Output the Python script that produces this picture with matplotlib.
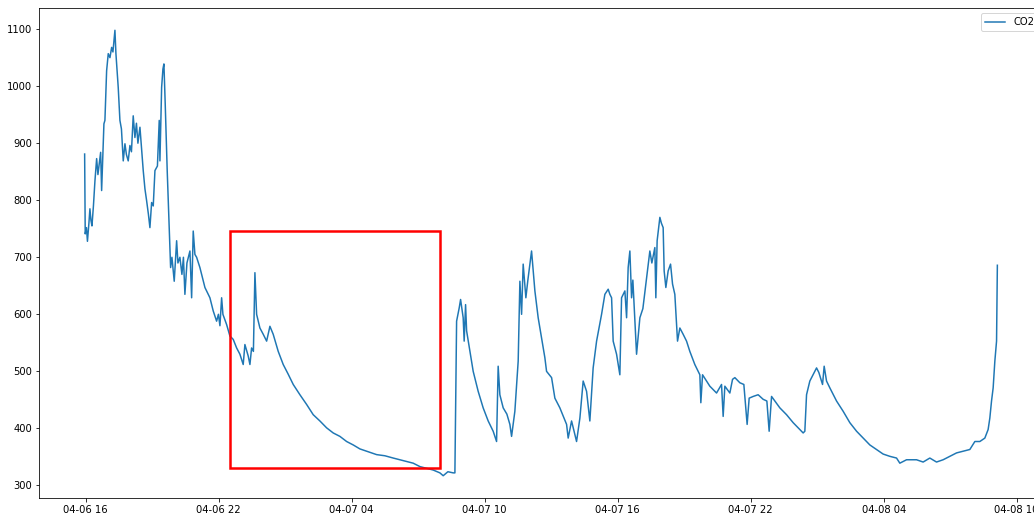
import matplotlib
matplotlib.use("Agg")
import matplotlib.pyplot as plt
import matplotlib.dates as mdates
from matplotlib.patches import Rectangle
import pandas as pd

# Time offsets (minutes after 2021-04-06 16:00) and CO2 readings
start_time = "2021-04-06 16:00"
minutes = [
    -2.7, -1.1, 2.2, 4.9, 8.9, 11.6, 14.3, 17.1, 21.1, 25.2, 29.8, 33.3, 36, 40.6, 43.3, 46.8,
    49.5, 52.2, 56.8, 61.2, 65.8, 70.4, 73.9, 79.3, 82, 88.2, 92.8, 96.9, 101.8, 106.4, 110.4,
    115.3, 119.9, 124, 128.8, 133.4, 137.5, 141.5, 147, 155.9, 160.5, 165.1, 170, 174, 178.6,
    183, 187.6, 194.3, 199.2, 201.1, 205.7, 209.2, 211.9, 215.4, 220.8, 226.3, 230, 233.6,
    239.8, 246.3, 249.8, 255.2, 260.6, 264.7, 268.7, 274.2, 282.3, 286.9, 291.2, 295.8, 300.4,
    309.3, 322.9, 336.4, 345.3, 354.5, 359.4, 363.5, 368.1, 371.6, 381.6,
    390.5, 399.5, 408.7, 417.6, 426.5, 431.1, 440, 444.7, 449.2, 454.1, 458.2, 462.8, 471.7,
    480.7, 489.9, 498.8, 507.7, 521.3, 534.8, 548.3, 561.9, 580, 598.1, 616, 634.1, 652.2,
    670.1, 688.2, 706.4, 724.2, 742.4, 760.5, 787.6, 810, 832.5, 850.6, 868.8, 886.6, 904.8,
    922.9, 940.7, 958.9, 967.8, 980.5, 994.9, 999.5, 1004.1, 1011.1, 1014.9, 1021.9, 1024.6,
    1028.4, 1031.2, 1040.1, 1049, 1062.5, 1076, 1089.6, 1103.1, 1112.3, 1116.6, 1121.2,
    1130.2, 1140.2, 1148.3, 1152.9, 1161.8, 1170.8, 1175.4, 1180, 1184.3, 1191.6, 1197, 1207,
    1216, 1224.9, 1234.1, 1243, 1247.6, 1261.2, 1270.1, 1283.6, 1301.8, 1306.1, 1315.3,
    1328.8, 1337.8, 1346.7, 1355.9, 1364.8, 1373.7, 1383, 1396.5, 1405.4, 1414.4, 1419,
    1423.6, 1427.9, 1437.1, 1446, 1450.6, 1459.6, 1464.2, 1468.5, 1473.1, 1477.7, 1481.2,
    1491.2, 1500.2, 1508.3, 1518.3, 1527.2, 1532.6, 1540.7, 1543.4, 1546.9, 1554.3, 1558.3,
    1563.2, 1565.9, 1570.5, 1576.7, 1583.2, 1588.6, 1594.8, 1602.1, 1608.4, 1617.3, 1626.5,
    1635.4, 1648.9, 1662.5, 1665.2, 1669.8, 1689.5, 1707.7, 1721.2, 1725.6, 1730.2, 1743.7,
    1751, 1757.3, 1770.8, 1781.6, 1790.5, 1796, 1806.8, 1820.3, 1833.8, 1843.9, 1850.1,
    1856.6, 1865.5, 1879, 1897.2, 1915.1, 1933.2, 1942.1, 1946.7, 1951.3, 1960.2, 1973.8,
    1978.4, 1984.6, 1994.6, 1999, 2005.4, 2014.4, 2032.5, 2050.4, 2068.5, 2086.7, 2104.5,
    2122.6, 2140.8, 2158.6, 2176.8, 2194.9, 2203.8, 2222, 2249, 2266.9, 2285, 2303.1, 2321,
    2339.1, 2357.3, 2375.2, 2393.3, 2406.9, 2420.4, 2433.9, 2442.8, 2447.4, 2452, 2456.4,
    2461, 2465.6, 2467.8,
]
co2 = [
    881, 741, 752, 728, 760, 785, 765, 755, 790, 834, 873, 845, 860, 884, 817, 880,
    934, 940, 1027, 1057, 1050, 1068, 1060, 1098, 1057, 998, 940, 925, 869, 899, 880,
    869, 896, 885, 948, 910, 935, 900, 928, 852, 820, 799, 775, 752, 796,
    790, 852, 860, 940, 869, 998, 1030, 1039, 969, 852, 752, 682, 700,
    658, 729, 690, 700, 670, 700, 635, 690, 711, 629, 746, 705, 700,
    682, 647, 629, 606, 588, 600, 580, 629, 600, 582,
    562, 556, 541, 530, 512, 547, 527, 512, 541, 535, 673, 600, 576,
    565, 553, 579, 565, 535, 512, 495, 477, 459, 442, 424, 413, 401,
    392, 386, 377, 371, 364, 360, 354, 352, 348, 345, 342, 339, 333,
    330, 327, 322, 317, 324, 322, 322, 588, 611, 626, 594, 553,
    617, 571, 535, 500, 465, 436, 413, 395, 377, 509, 459,
    436, 425, 407, 386, 430, 518, 658, 600, 688, 629, 660, 711,
    641, 594, 559, 524, 500, 489, 453, 436, 407, 383, 413,
    377, 418, 483, 465, 413, 506, 553, 600, 635, 644, 635,
    629, 553, 530, 494, 629, 641, 594, 682, 711, 629, 660,
    530, 594, 610, 664, 711, 690, 717, 629, 729, 770, 760,
    752, 676, 647, 676, 688, 653, 635, 553, 576, 565, 553,
    535, 512, 494, 445, 494, 474, 462, 477, 421, 474, 462,
    486, 489, 480, 477, 407, 453, 456, 459, 451, 448, 395,
    456, 448, 436, 424, 410, 398, 392, 395, 459, 483, 500,
    506, 498, 477, 509, 483, 471, 448, 430, 410, 395, 383,
    371, 363, 355, 351, 348, 339, 345, 345, 341, 348, 341, 345,
    351, 357, 360, 363, 377, 377, 383, 398, 418, 448, 471,
    518, 553, 686,
]
series_label = "CO2"
tick_hours = [4, 10, 16, 22]

# highlighted window (annotation box)
box_start = "2021-04-06 22:30"
box_end = "2021-04-07 08:00"
box_low, box_high = 330, 746

times = pd.Timestamp(start_time) + pd.to_timedelta(minutes, unit="m")

W, H, DPI = 1034, 514, 72
fig = plt.figure(figsize=(W / DPI, H / DPI), dpi=DPI)
ax = fig.add_axes([39 / W, 16 / H, 1004 / W, 490 / H])
ax.plot(times, co2, color="#1f77b4", linewidth=1.5, label=series_label)

x0 = mdates.date2num(pd.Timestamp(box_start))
x1 = mdates.date2num(pd.Timestamp(box_end))
ax.add_patch(Rectangle((x0, box_low), x1 - x0, box_high - box_low,
                       fill=False, edgecolor="red", linewidth=2.5, zorder=3))

ax.xaxis.set_major_locator(mdates.HourLocator(byhour=tick_hours))
ax.xaxis.set_major_formatter(mdates.DateFormatter("%m-%d %H"))
ax.set_yticks([300, 400, 500, 600, 700, 800, 900, 1000, 1100])
ax.tick_params(labelsize=10)
ax.legend(loc="upper right", fontsize=10)

fig.savefig("out.png", dpi=DPI)
